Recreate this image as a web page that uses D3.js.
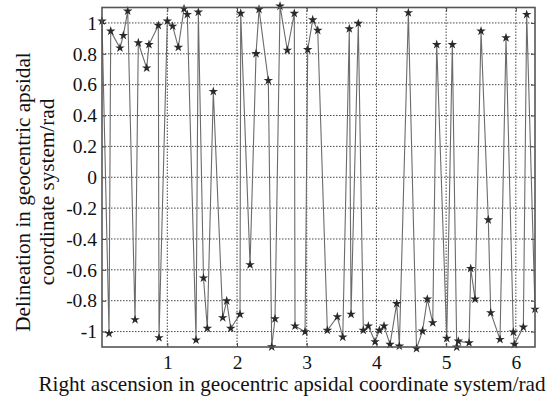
<!DOCTYPE html>
<html>
<head>
<meta charset="utf-8">
<script src="https://cdn.jsdelivr.net/npm/d3@7"></script>
<style>
  body { margin: 0; background: #fff; }
  text { font-family: "Liberation Serif", "Times New Roman", serif; fill: #111; }
</style>
</head>
<body>
<svg id="chart" width="555" height="398"></svg>
<script>
// right ascension (rad)
const ascension = [
  0.063, 0.164, 0.188, 0.321, 0.369, 0.432, 0.537, 0.584, 0.704, 0.737,
  0.871, 0.881, 1.0, 1.077, 1.158, 1.240, 1.287, 1.412, 1.445, 1.519,
  1.574, 1.660, 1.795, 1.852, 1.910, 2.043, 2.053, 2.187, 2.273, 2.316,
  2.449, 2.498, 2.545, 2.617, 2.722, 2.822, 2.832, 2.976, 3.014, 3.086,
  3.158, 3.296, 3.439, 3.517, 3.611, 3.636, 3.740, 3.812, 3.884, 3.980,
  4.042, 4.109, 4.195, 4.291, 4.329, 4.458, 4.575, 4.661, 4.730, 4.808,
  4.865, 5.009, 5.089, 5.152, 5.175, 5.329, 5.353, 5.415, 5.501, 5.605,
  5.640, 5.773, 5.859, 5.964, 5.979, 6.108, 6.156, 6.275
]
// delineation (rad)
const delineation = [
  1.012, -1.012, 0.947, 0.838, 0.919, 1.077, -0.923, 0.871, 0.708, 0.860,
  0.984, -1.040, 1.012, 0.979, 0.842, 1.092, 1.055, -1.055, 1.070, -0.653,
  -0.979, 0.556, -0.910, -0.801, -0.979, -0.888, 1.062, -0.567, 0.801, 1.088,
  0.627, -1.099, -0.917, 1.109, 0.823, 1.062, -0.964, -1.001, 0.827, 1.020,
  0.952, -0.992, -0.904, -1.036, 0.962, -0.888, 0.997, -0.992, -0.964, -1.066,
  -0.992, -0.964, -1.083, -0.819, -1.094, 1.066, -1.110, -0.997, -0.790, -0.943,
  0.860, -1.044, 0.860, -1.101, -1.062, -1.073, -0.591, -0.790, 0.947, -0.276,
  -0.878, -1.051, 0.904, -1.003, -1.083, -0.971, 1.055, -0.855
]
const xTicks = [1, 2, 3, 4, 5, 6]
const yTicks = [-1, -0.8, -0.6, -0.4, -0.2, 0, 0.2, 0.4, 0.6, 0.8, 1]

const data = ascension.map((x, i) => ({ x, y: delineation[i] }))

const svg = d3.select('#chart')
const plotLeft = 102
const plotRight = 535
const plotTop = 7.5
const plotBottom = 347

const xScale = d3.scaleLinear().domain([0.063, 6.275]).range([plotLeft, plotRight])
const yScale = d3.scaleLinear().domain([-1.1, 1.1]).range([plotBottom, plotTop])

// dotted grid
svg.append('g')
  .selectAll('line')
  .data(xTicks)
  .join('line')
  .attr('x1', (d) => xScale(d)).attr('x2', (d) => xScale(d))
  .attr('y1', plotTop).attr('y2', plotBottom)
  .attr('stroke', '#444')
  .attr('stroke-width', 1)
  .attr('stroke-dasharray', '1.5,1.5')

svg.append('g')
  .selectAll('line')
  .data(yTicks)
  .join('line')
  .attr('x1', plotLeft).attr('x2', plotRight)
  .attr('y1', (d) => yScale(d)).attr('y2', (d) => yScale(d))
  .attr('stroke', '#444')
  .attr('stroke-width', 1)
  .attr('stroke-dasharray', '1.5,1.5')

/**
 * Styles the tick labels and inward ticks of an axis group.
 *
 * @param {*} g The axis group
 */
function styleAxis (g) {
  g.attr('font-family', null).attr('font-size', null)
  g.select('.domain').remove()
  g.selectAll('.tick line').attr('stroke', '#444')
  g.selectAll('text')
    .style('font-size', '19.5px')
    .style('font-family', '"Liberation Serif", serif')
    .attr('fill', '#111')
}

// axes with inward ticks on all four sides, labels on bottom and left
svg.append('g')
  .attr('transform', `translate(0,${plotBottom})`)
  .call(d3.axisBottom(xScale).tickValues(xTicks).tickSize(-4).tickPadding(8).tickFormat(d3.format('d')))
  .call(styleAxis)

svg.append('g')
  .attr('transform', `translate(0,${plotTop})`)
  .call(d3.axisTop(xScale).tickValues(xTicks).tickSize(-4).tickFormat(''))
  .call(styleAxis)

svg.append('g')
  .attr('transform', `translate(${plotLeft},0)`)
  .call(d3.axisLeft(yScale).tickValues(yTicks).tickSize(-4).tickPadding(5).tickFormat((d) => String(+d.toFixed(1))))
  .call(styleAxis)

svg.append('g')
  .attr('transform', `translate(${plotRight},0)`)
  .call(d3.axisRight(yScale).tickValues(yTicks).tickSize(-4).tickFormat(''))
  .call(styleAxis)

// the line and star markers
const line = d3.line().x((d) => xScale(d.x)).y((d) => yScale(d.y))
svg.append('path')
  .datum(data)
  .attr('d', line)
  .attr('fill', 'none')
  .attr('stroke', '#6b6b6b')
  .attr('stroke-width', 1.1)

svg.append('g')
  .selectAll('path')
  .data(data)
  .join('path')
  .attr('transform', (d) => `translate(${xScale(d.x)},${yScale(d.y)})`)
  .attr('d', d3.symbol().type(d3.symbolStar).size(28))
  .attr('fill', '#2a2a2a')

// frame
svg.append('rect')
  .attr('x', plotLeft).attr('y', plotTop)
  .attr('width', plotRight - plotLeft).attr('height', plotBottom - plotTop)
  .attr('fill', 'none')
  .attr('stroke', '#555')
  .attr('stroke-width', 1.6)

// axis titles
svg.append('text')
  .attr('x', 292)
  .attr('y', 390.5)
  .attr('text-anchor', 'middle')
  .style('font-size', '21.2px')
  .text('Right ascension in geocentric apsidal coordinate system/rad')

const yTitle = svg.append('text')
  .attr('transform', 'translate(0,192) rotate(-90)')
  .attr('text-anchor', 'middle')
  .style('font-size', '21.2px')
yTitle.append('tspan').attr('x', 0).attr('y', 30).text('Delineation in geocentric apsidal')
yTitle.append('tspan').attr('x', 0).attr('y', 54).text('coordinate system/rad')
</script>
</body>
</html>
